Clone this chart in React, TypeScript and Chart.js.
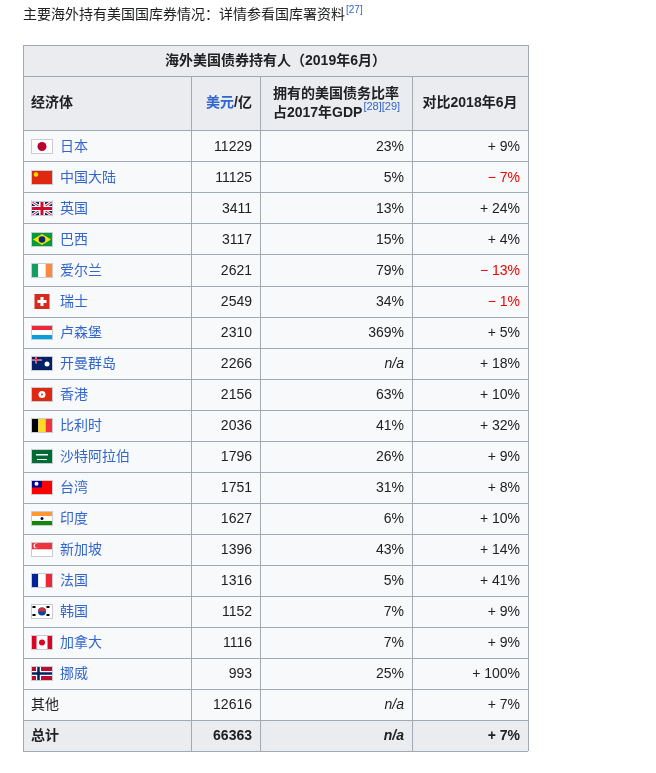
import { useEffect, useRef } from 'react'
import { Chart, registerables } from 'chart.js'

Chart.register(...registerables)

const pageTitle = '主要海外持有美国国库券情况：详情参看国库署资料'
const pageTitleRef = '[27]'
const tableTitle = '海外美国债券持有人（2019年6月）'
const countries = ['日本', '中国大陆', '英国', '巴西', '爱尔兰', '瑞士', '卢森堡', '开曼群岛', '香港', '比利时', '沙特阿拉伯', '台湾', '印度', '新加坡', '法国', '韩国', '加拿大', '挪威', '其他']
const flags = ['jp', 'cn', 'gb', 'br', 'ie', 'ch', 'lu', 'ky', 'hk', 'be', 'sa', 'tw', 'in', 'sg', 'fr', 'kr', 'ca', 'no', '']
const holdings = [11229, 11125, 3411, 3117, 2621, 2549, 2310, 2266, 2156, 2036, 1796, 1751, 1627, 1396, 1316, 1152, 1116, 993, 12616]
const gdpShare = ['23%', '5%', '13%', '15%', '79%', '34%', '369%', 'n/a', '63%', '41%', '26%', '31%', '6%', '43%', '5%', '7%', '7%', '25%', 'n/a']
const change = [9, -7, 24, 4, -13, -1, 5, 18, 10, 32, 9, 8, 10, 14, 41, 9, 9, 100, 7]
const totalHoldings = 66363
const totalChange = 7

const colWidths = [168, 69, 152, 116]
const FONT = '"Liberation Sans", "Noto Sans CJK SC", sans-serif'
const BLUE = '#3366cc'

function drawFlag(ctx: CanvasRenderingContext2D, code: string, x: number, y: number) {
  const w = 22, h = 15
  const rect = (c: string, rx: number, ry: number, rw: number, rh: number) => { ctx.fillStyle = c; ctx.fillRect(rx, ry, rw, rh) }
  const circle = (c: string, cx: number, cy: number, r: number) => { ctx.fillStyle = c; ctx.beginPath(); ctx.arc(cx, cy, r, 0, Math.PI * 2); ctx.fill() }
  switch (code) {
    case 'jp': rect('#fff', x, y, w, h); circle('#bc002d', x + 11, y + 7.5, 4.5); break
    case 'cn': rect('#de2910', x, y, w, h); circle('#ffde00', x + 5, y + 4.5, 2.2); break
    case 'gb':
      rect('#012169', x, y, w, h)
      ctx.strokeStyle = '#fff'; ctx.lineWidth = 3
      ctx.beginPath(); ctx.moveTo(x, y); ctx.lineTo(x + w, y + h); ctx.moveTo(x + w, y); ctx.lineTo(x, y + h); ctx.stroke()
      ctx.strokeStyle = '#c8102e'; ctx.lineWidth = 1
      ctx.beginPath(); ctx.moveTo(x, y); ctx.lineTo(x + w, y + h); ctx.moveTo(x + w, y); ctx.lineTo(x, y + h); ctx.stroke()
      rect('#fff', x + 8, y, 6, h); rect('#fff', x, y + 5, w, 5)
      rect('#c8102e', x + 9.5, y, 3, h); rect('#c8102e', x, y + 6, w, 3); break
    case 'br':
      rect('#009c3b', x, y, w, h)
      ctx.fillStyle = '#ffdf00'; ctx.beginPath(); ctx.moveTo(x + 11, y + 2); ctx.lineTo(x + 20, y + 7.5); ctx.lineTo(x + 11, y + 13); ctx.lineTo(x + 2, y + 7.5); ctx.fill()
      circle('#002776', x + 11, y + 7.5, 3.3); break
    case 'ie': rect('#169b62', x, y, 7.3, h); rect('#fff', x + 7.3, y, 7.4, h); rect('#ff883e', x + 14.7, y, 7.3, h); break
    case 'ch': rect('#d52b1e', x + 3.5, y, 15, h); rect('#fff', x + 9.5, y + 3, 3, 9); rect('#fff', x + 6.5, y + 6, 9, 3); return
    case 'lu': rect('#ed2939', x, y, w, 5); rect('#fff', x, y + 5, w, 5); rect('#00a1de', x, y + 10, w, 5); break
    case 'ky':
      rect('#012169', x, y, w, h); rect('#fff', x, y + 3, 11, 1.5); rect('#fff', x + 4.5, y, 1.5, 7.5)
      rect('#c8102e', x, y + 3.3, 11, 0.8); rect('#c8102e', x + 4.9, y, 0.8, 7.5); circle('#fff', x + 16, y + 8, 2.5); break
    case 'hk': rect('#de2910', x, y, w, h); circle('#fff', x + 11, y + 7.5, 3.5); circle('#de2910', x + 11, y + 7.5, 1); break
    case 'be': rect('#000', x, y, 7.3, h); rect('#fdda24', x + 7.3, y, 7.4, h); rect('#ef3340', x + 14.7, y, 7.3, h); break
    case 'sa': rect('#006c35', x, y, w, h); rect('#fff', x + 5, y + 5, 12, 1.5); rect('#fff', x + 6, y + 10, 10, 1); break
    case 'tw': rect('#fe0000', x, y, w, h); rect('#000095', x, y, 11, 7.5); circle('#fff', x + 5.5, y + 3.75, 2); break
    case 'in': rect('#ff9933', x, y, w, 5); rect('#fff', x, y + 5, w, 5); rect('#138808', x, y + 10, w, 5); circle('#000080', x + 11, y + 7.5, 1.5); break
    case 'sg': rect('#ef3340', x, y, w, 7.5); rect('#fff', x, y + 7.5, w, 7.5); circle('#fff', x + 5, y + 3.75, 2.5); circle('#ef3340', x + 6, y + 3.75, 2.2); break
    case 'fr': rect('#002395', x, y, 7.3, h); rect('#fff', x + 7.3, y, 7.4, h); rect('#ed2939', x + 14.7, y, 7.3, h); break
    case 'kr':
      rect('#fff', x, y, w, h); circle('#0047a0', x + 11, y + 7.5, 4)
      ctx.fillStyle = '#cd2e3a'; ctx.beginPath(); ctx.arc(x + 11, y + 7.5, 4, Math.PI, 0); ctx.fill()
      ctx.fillStyle = '#000'; for (const dx of [3, 17]) for (const dy of [3, 11]) ctx.fillRect(x + dx - 1.5, y + dy - 1, 3, 2); break
    case 'ca': rect('#fff', x, y, w, h); rect('#d80621', x, y, 5.5, h); rect('#d80621', x + 16.5, y, 5.5, h); circle('#d80621', x + 11, y + 7.5, 3); break
    case 'no':
      rect('#ba0c2f', x, y, w, h); rect('#fff', x + 5, y, 5, h); rect('#fff', x, y + 5, w, 5)
      rect('#00205b', x + 6.25, y, 2.5, h); rect('#00205b', x, y + 6.25, w, 2.5); break
    default: return
  }
  ctx.strokeStyle = '#c8ccd1'; ctx.lineWidth = 1; ctx.strokeRect(x + 0.5, y + 0.5, w - 1, h - 1)
}

const fmtChange = (v: number) => (v < 0 ? '\u2212 ' + Math.abs(v) + '%' : '+ ' + v + '%')

const tablePlugin = {
  id: 'tableCells',
  afterDraw(chart: any) {
    const { ctx, scales } = chart
    const xs = scales.x, ys = scales.y
    const edges = [0]
    colWidths.forEach(w => edges.push(edges[edges.length - 1] + w))
    const cx = edges.map(e => xs.getPixelForValue(e))
    const rowEdges = [0, 1, 2.75]
    countries.forEach(() => rowEdges.push(rowEdges[rowEdges.length - 1] + 1))
    rowEdges.push(rowEdges[rowEdges.length - 1] + 1)
    const ry = rowEdges.map(r => ys.getPixelForValue(r))
    const L = cx[0], R = cx[cx.length - 1]
    ctx.save()
    // backgrounds
    ctx.fillStyle = '#f8f9fa'; ctx.fillRect(L, ry[0], R - L, ry[ry.length - 1] - ry[0])
    ctx.fillStyle = '#eaecf0'
    ctx.fillRect(L, ry[0], R - L, ry[2] - ry[0])
    ctx.fillRect(L, ry[ry.length - 2], R - L, ry[ry.length - 1] - ry[ry.length - 2])
    // grid
    ctx.strokeStyle = '#a2a9b1'; ctx.lineWidth = 1
    ctx.beginPath()
    ry.forEach(y => { ctx.moveTo(L, Math.round(y) + 0.5); ctx.lineTo(R, Math.round(y) + 0.5) })
    cx.forEach((x, i) => { const top = i === 0 || i === cx.length - 1 ? ry[0] : ry[1]; ctx.moveTo(Math.round(x) + 0.5, top); ctx.lineTo(Math.round(x) + 0.5, ry[ry.length - 1]) })
    ctx.stroke()
    ctx.textBaseline = 'middle'
    const txt = (s: string, x: number, y: number, align: CanvasTextAlign, color = '#202122', weight = '', style = '') => {
      ctx.font = `${style} ${weight} 14px ${FONT}`; ctx.fillStyle = color; ctx.textAlign = align; ctx.fillText(s, x, y)
      return ctx.measureText(s).width
    }
    // page title
    const tw = txt(pageTitle, L, 15, 'left')
    ctx.font = `10px ${FONT}`; ctx.fillStyle = BLUE; ctx.textAlign = 'left'; ctx.fillText(pageTitleRef, L + tw + 1, 10)
    // table title
    txt(tableTitle, (L + R) / 2, (ry[0] + ry[1]) / 2 + 1, 'center', '#202122', 'bold')
    const hm = (ry[1] + ry[2]) / 2
    txt('经济体', cx[0] + 8, hm, 'left', '#202122', 'bold')
    const w2 = (() => { ctx.font = `bold 14px ${FONT}`; return ctx.measureText('/亿').width })()
    txt('/亿', cx[2] - 8, hm, 'right', '#202122', 'bold')
    txt('美元', cx[2] - 8 - w2, hm, 'right', BLUE, 'bold')
    const mid3 = (cx[2] + cx[3]) / 2
    txt('拥有的美国债务比率', mid3, hm - 9, 'center', '#202122', 'bold')
    ctx.font = `bold 14px ${FONT}`
    const a = ctx.measureText('占2017年GDP').width
    ctx.font = `11px ${FONT}`
    const b = ctx.measureText('[28][29]').width
    const sx = mid3 - (a + b) / 2
    txt('占2017年GDP', sx, hm + 10, 'left', '#202122', 'bold')
    ctx.font = `11px ${FONT}`; ctx.fillStyle = BLUE; ctx.fillText('[28][29]', sx + a + 1, hm + 4)
    txt('对比2018年6月', (cx[3] + cx[4]) / 2, hm, 'center', '#202122', 'bold')
    // data rows
    countries.forEach((name, i) => {
      const y = (ry[i + 2] + ry[i + 3]) / 2 + 1
      if (flags[i]) { drawFlag(ctx, flags[i], cx[0] + 8, Math.round(y - 8)); txt(name, cx[0] + 37, y, 'left', BLUE) }
      else txt(name, cx[0] + 8, y, 'left')
      txt(String(holdings[i]), cx[2] - 8, y, 'right')
      txt(gdpShare[i], cx[3] - 8, y, 'right', '#202122', '', gdpShare[i] === 'n/a' ? 'italic' : '')
      txt(fmtChange(change[i]), cx[4] - 8, y, 'right', change[i] < 0 ? '#ee0000' : '#202122')
    })
    const ty = (ry[ry.length - 2] + ry[ry.length - 1]) / 2 + 1
    txt('总计', cx[0] + 8, ty, 'left', '#202122', 'bold')
    txt(String(totalHoldings), cx[2] - 8, ty, 'right', '#202122', 'bold')
    txt('n/a', cx[3] - 8, ty, 'right', '#202122', 'bold', 'italic')
    txt(fmtChange(totalChange), cx[4] - 8, ty, 'right', '#202122', 'bold')
    ctx.restore()
  }
}

export default function App() {
  const ref = useRef<HTMLCanvasElement>(null)
  useEffect(() => {
    if (!ref.current) return
    const totalRows = 2.75 + countries.length + 1
    const chart = new Chart(ref.current, {
      type: 'scatter',
      data: { datasets: [] },
      options: {
        animation: false,
        responsive: false,
        layout: { padding: { left: 23, top: 45, right: 656 - 528, bottom: 773 - 751 } },
        plugins: { legend: { display: false }, tooltip: { enabled: false } },
        scales: {
          x: { type: 'linear', display: false, min: 0, max: colWidths.reduce((s, w) => s + w, 0) },
          y: { type: 'linear', display: false, min: 0, max: totalRows, reverse: true }
        }
      },
      plugins: [tablePlugin]
    })
    return () => chart.destroy()
  }, [])
  return (
    <div style={{ position: 'absolute', left: 0, top: 0, width: 656, height: 773, background: '#fff' }}>
      <canvas ref={ref} width={656} height={773} />
    </div>
  )
}
